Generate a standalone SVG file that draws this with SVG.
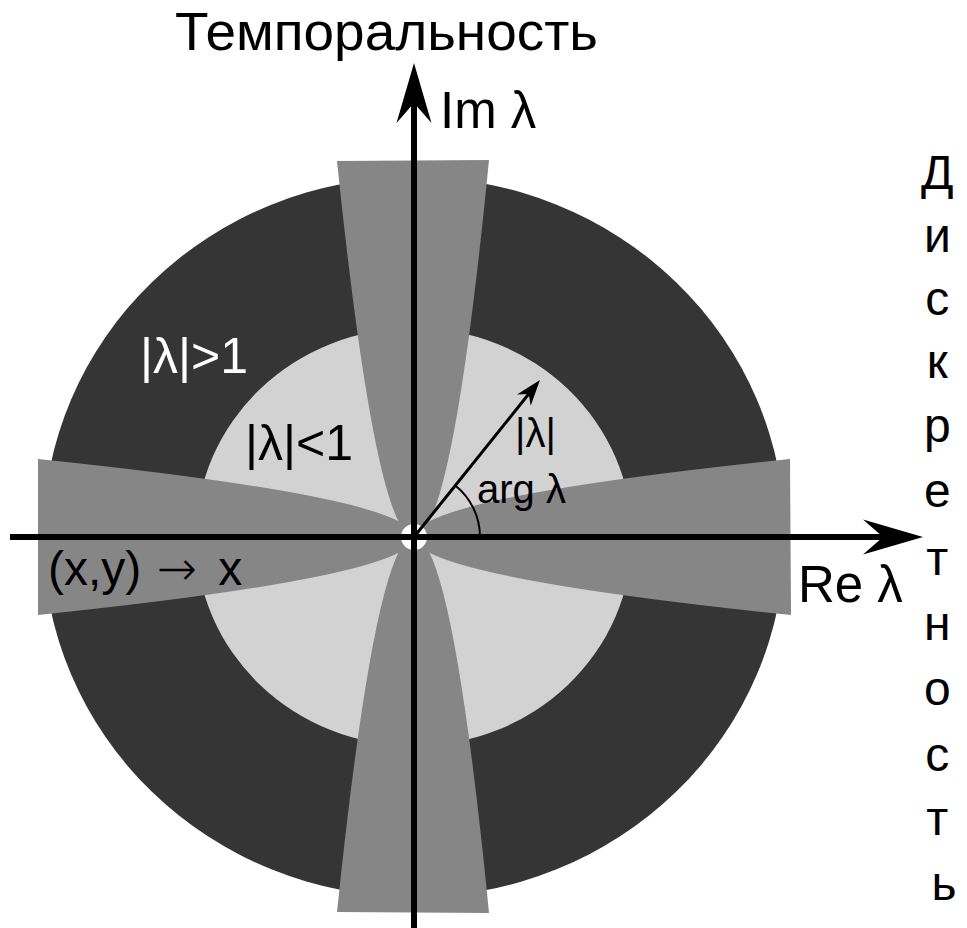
<svg xmlns="http://www.w3.org/2000/svg" width="967" height="928" viewBox="0 0 967 928">
<style>
text{font-family:"Liberation Sans",Arial,sans-serif;fill:#000}
.band{fill:#868686}
.axis{stroke:#000;stroke-width:6;fill:none}
.thin{stroke:#000;stroke-width:3;fill:none}
.lbl{font-size:48px}
.big{font-size:50px}
.wht{fill:#fff}
.arr{font-family:"DejaVu Sans",sans-serif;font-weight:300}
</style>
<defs>
<marker id="ax" viewBox="0 -18 60 36" refX="20" refY="0" markerWidth="60" markerHeight="36" markerUnits="userSpaceOnUse" orient="auto">
<path d="M0,-17.5 L60,0 L0,17.5 L20,0 Z" fill="#000"/>
</marker>
<marker id="sm" viewBox="0 -9 26 18" refX="8" refY="0" markerWidth="26" markerHeight="18" markerUnits="userSpaceOnUse" orient="auto">
<path d="M0,-9 L26,0 L0,9 L8,0 Z" fill="#000"/>
</marker>
</defs>
<rect width="967" height="928" fill="#fff"/>
<g id="regions">
<ellipse cx="414" cy="537" rx="371" ry="360" fill="#353535"/>
<ellipse cx="414" cy="537" rx="218" ry="209" fill="#d2d2d2"/>
<path class="band" d="M414,537 Q414,498 790,459 L791,615 Q414,576 414,537 Z"/>
<path class="band" d="M414,537 Q414,498 38,459 L38,615 Q414,576 414,537 Z"/>
<path class="band" d="M414,537 Q376,537 337,161 L489,160 Q452,537 414,537 Z"/>
<path class="band" d="M414,537 Q376,537 337,912 L489,913 Q452,537 414,537 Z"/>
<circle cx="414" cy="537" r="13" fill="#fff"/>
</g>
<g id="connectors">
<path class="axis" d="M10,537 H883" marker-end="url(#ax)"/>
<path class="axis" d="M414,928 V103" marker-end="url(#ax)"/>
<path class="thin" d="M414,537 L528.7,394" marker-end="url(#sm)"/>
<path d="M480,537 A66,66 0 0 0 455.3,485.5" stroke="#000" stroke-width="2" fill="none"/>
</g>
<g id="labels">
<text x="175" y="50" font-size="53" textLength="423" lengthAdjust="spacingAndGlyphs">Темпоральность</text>
<text x="440" y="128" font-size="51">Im λ</text>
<text x="798" y="602" font-size="51">Re λ</text>
<text class="big wht" x="140" y="373">|λ|&gt;1</text>
<text class="big" x="245" y="460">|λ|&lt;1</text>
<text class="lbl" x="48" y="585">(x,y) <tspan class="arr" dx="2">→</tspan><tspan dx="8"> x</tspan></text>
<text x="515" y="447" font-size="40">|λ|</text>
<text x="477" y="503" font-size="40">arg λ</text>
</g>
<g id="vertical-label">
<text class="lbl" text-anchor="middle">
<tspan x="944" y="189">Д</tspan>
<tspan x="944" y="252">и</tspan>
<tspan x="944" y="315">с</tspan>
<tspan x="944" y="378">к</tspan>
<tspan x="944" y="442">р</tspan>
<tspan x="944" y="507">е</tspan>
<tspan x="944" y="575">т</tspan>
<tspan x="944" y="640">н</tspan>
<tspan x="944" y="705">о</tspan>
<tspan x="944" y="771">с</tspan>
<tspan x="944" y="835">т</tspan>
<tspan x="944" y="900">ь</tspan>
</text>
</g>
</svg>
